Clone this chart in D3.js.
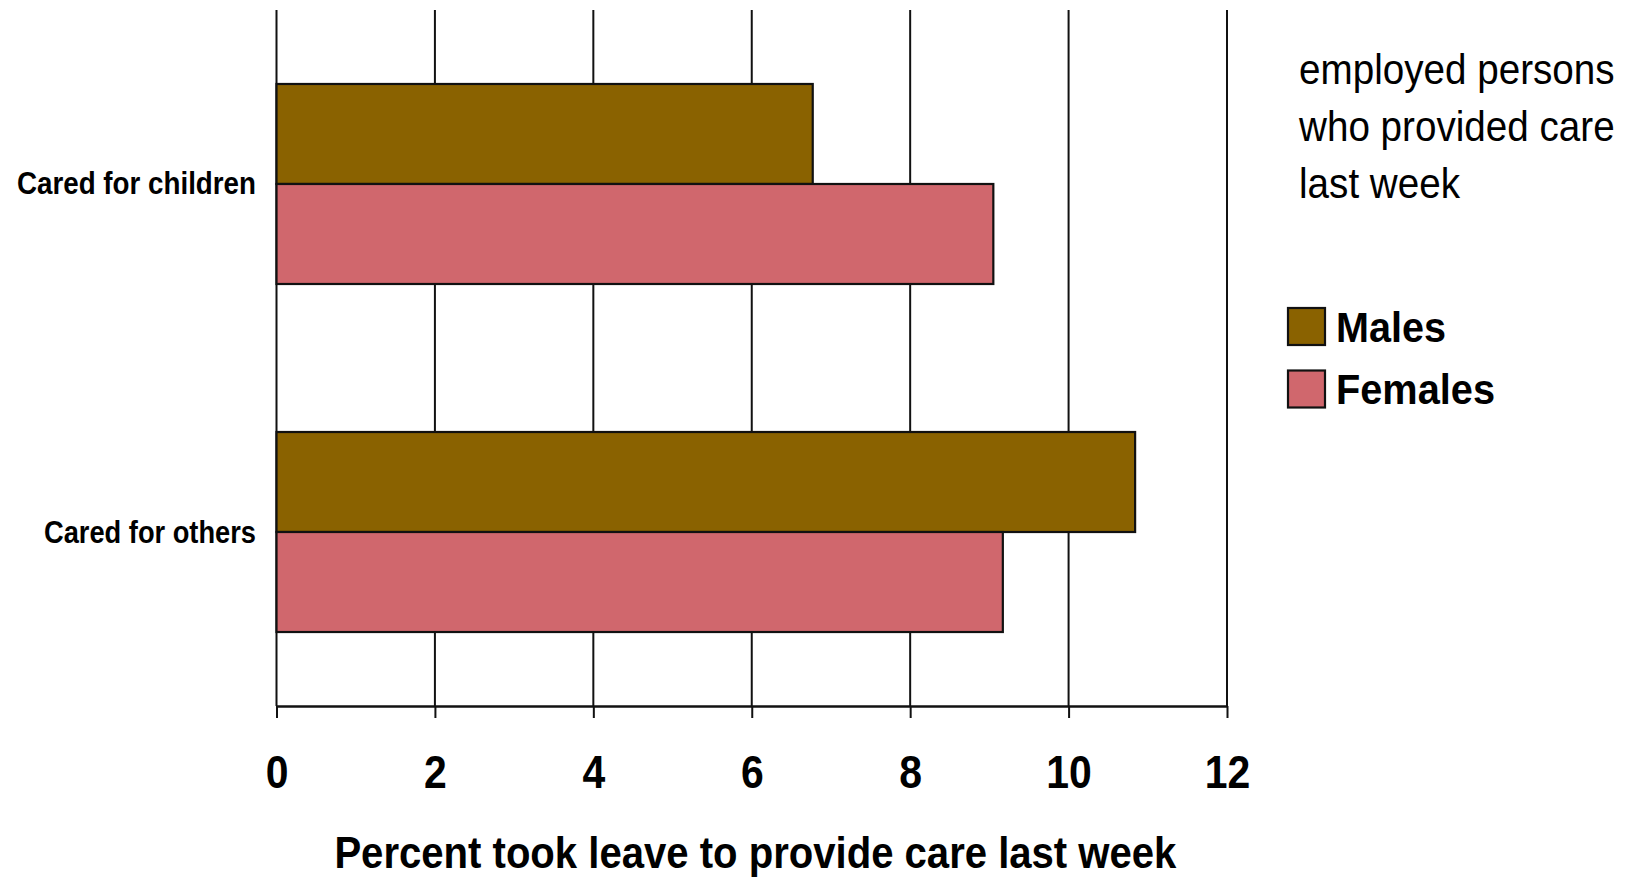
<!DOCTYPE html>
<html>
<head>
<meta charset="utf-8">
<script src="https://cdn.jsdelivr.net/npm/d3@7"></script>
<style>
  html, body { margin: 0; padding: 0; background: #fff; }
  svg { display: block; }
  .bold { font-family: "Liberation Sans", Arial, Helvetica, sans-serif; font-weight: bold; }
  .reg { font-family: "Liberation Sans", Arial, Helvetica, sans-serif; }
</style>
</head>
<body>
<svg id="chart" width="1628" height="877"></svg>
<script>
// Share of employed caregivers who took leave last week, by care type and sex
const categories = ["Cared for children", "Cared for others"];
const seriesNames = ["Males", "Females"];
const malesValues = [6.77, 10.84];
const femalesValues = [9.05, 9.17];
const xTicks = [0, 2, 4, 6, 8, 10, 12];
const xTitle = "Percent took leave to provide care last week";
const noteLines = ["employed persons", "who provided care", "last week"];
const colors = ["#8a6200", "#d0676d"];

const svg = d3.select("#chart");
const plot = { left: 276.5, right: 1227, top: 10, bottom: 706 };

const x = d3.scaleLinear().domain([0, 12]).range([plot.left, plot.right]);
const y = d3.scaleBand().domain(categories).range([plot.top, plot.bottom])
  .paddingInner(0.4253).paddingOuter(0.2126);
const ySub = d3.scaleBand().domain(seriesNames).range([0, y.bandwidth()]);
const color = d3.scaleOrdinal().domain(seriesNames).range(colors);

// condensed look: squeeze a text to a given advance width
function squeeze(sel, w) {
  sel.attr("textLength", w).attr("lengthAdjust", "spacingAndGlyphs");
}

// vertical grid lines
svg.append("g").selectAll("line").data(xTicks).join("line")
  .attr("x1", d => x(d)).attr("x2", d => x(d))
  .attr("y1", plot.top).attr("y2", plot.bottom)
  .attr("stroke", "#111").attr("stroke-width", 2);

// bars
const rows = categories.map((c, i) => ({
  cat: c,
  values: [{ s: "Males", v: malesValues[i] }, { s: "Females", v: femalesValues[i] }]
}));
const groups = svg.append("g").selectAll("g").data(rows).join("g")
  .attr("transform", d => `translate(0,${y(d.cat)})`);
groups.selectAll("rect").data(d => d.values).join("rect")
  .attr("x", x(0))
  .attr("y", d => ySub(d.s))
  .attr("width", d => x(d.v) - x(0))
  .attr("height", ySub.bandwidth())
  .attr("fill", d => color(d.s))
  .attr("stroke", "#111").attr("stroke-width", 2.2);

// x axis
const xAxis = svg.append("g")
  .attr("transform", `translate(0,${plot.bottom})`)
  .call(d3.axisBottom(x).tickValues(xTicks).tickFormat(d3.format("d"))
    .tickSize(12).tickSizeOuter(0).tickPadding(0));
xAxis.select(".domain").attr("stroke", "#111").attr("stroke-width", 2.4);
xAxis.selectAll(".tick line").attr("stroke", "#111").attr("stroke-width", 2);
xAxis.selectAll(".tick text").attr("class", "bold")
  .attr("font-size", 47).attr("fill", "#000")
  .attr("y", 82).attr("dy", null)
  .attr("transform", "scale(0.87,1)");

// axis title
svg.append("text").attr("class", "bold")
  .attr("x", 755.4).attr("y", 868)
  .attr("text-anchor", "middle").attr("font-size", 44)
  .text(xTitle)
  .call(squeeze, 842);

// category labels
const catWidths = [239, 212];
svg.append("g").selectAll("text").data(categories).join("text")
  .attr("class", "bold")
  .attr("x", 256)
  .attr("y", d => y(d) + y.bandwidth() / 2 + 10.5)
  .attr("text-anchor", "end").attr("font-size", 32)
  .text(d => d)
  .each(function (d, i) { d3.select(this).call(squeeze, catWidths[i]); });

// note text, horizontally compressed
svg.append("g").selectAll("text").data(noteLines).join("text")
  .attr("class", "reg")
  .attr("transform", (d, i) => `translate(1299,${84 + i * 57}) scale(0.92,1)`)
  .attr("font-size", 42).attr("fill", "#000")
  .text(d => d);

// legend
const legendWidths = [110, 159];
const legend = svg.append("g").selectAll("g").data(seriesNames).join("g")
  .attr("transform", (d, i) => `translate(1288,${308 + i * 62.5})`);
legend.append("rect")
  .attr("width", 37).attr("height", 37)
  .attr("fill", d => color(d))
  .attr("stroke", "#111").attr("stroke-width", 2.2);
legend.append("text").attr("class", "bold")
  .attr("x", 48).attr("y", 33.5)
  .attr("font-size", 43)
  .text(d => d)
  .each(function (d, i) { d3.select(this).call(squeeze, legendWidths[i]); });
</script>
</body>
</html>
